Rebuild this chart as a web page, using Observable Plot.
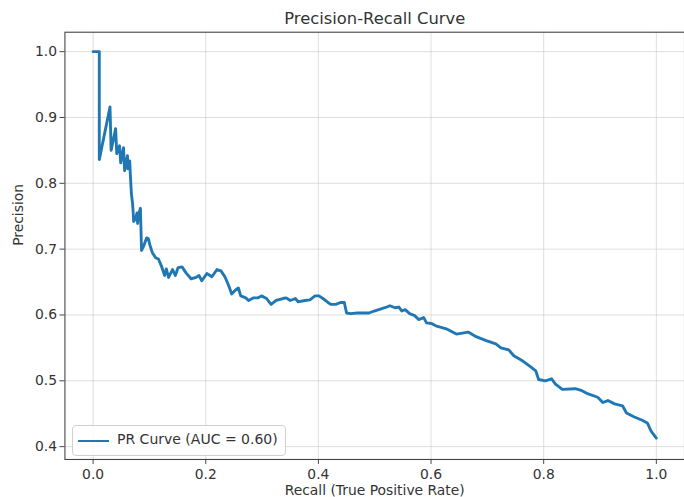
<!DOCTYPE html>
<html>
<head>
<meta charset="utf-8">
<script src="https://cdn.jsdelivr.net/npm/d3@7"></script>
<script src="https://cdn.jsdelivr.net/npm/@observablehq/plot@0.6"></script>
<style>
  html, body { margin: 0; padding: 0; background: #fff; overflow: hidden; }
  #wrap { position: relative; width: 684px; height: 497px; overflow: hidden; }
  #legend {
    position: absolute; left: 72px; top: 425px; width: 214px; height: 31px;
    border: 1px solid #d0d0d0; border-radius: 4px; background: rgba(255,255,255,0.85);
    font-family: "DejaVu Sans", sans-serif; font-size: 14px; color: #333;
    box-sizing: border-box;
  }
  #legend .sw { position: absolute; left: 5px; top: 13.5px; width: 31px; height: 0; border-top: 2.8px solid #1f77b4; }
  #legend .lab { position: absolute; left: 44px; top: 5px; white-space: nowrap; }
</style>
</head>
<body>
<div id="wrap"></div>
<script>
const title = "Precision-Recall Curve";
const xLabel = "Recall (True Positive Rate)";
const yLabel = "Precision";
const legendLabel = "PR Curve (AUC = 0.60)";
const xTicks = [0, 0.2, 0.4, 0.6, 0.8, 1.0];
const yTicks = [0.4, 0.5, 0.6, 0.7, 0.8, 0.9, 1.0];

const recall = [
  0.000, 0.011, 0.011, 0.030, 0.032, 0.040, 0.042, 0.047, 0.049, 0.054,
  0.056, 0.061, 0.062, 0.065, 0.066, 0.068, 0.070, 0.071, 0.072, 0.076,
  0.078, 0.079, 0.081, 0.084, 0.086, 0.090, 0.095, 0.098, 0.101, 0.105,
  0.111, 0.116, 0.121, 0.127, 0.130, 0.134, 0.141, 0.146, 0.151, 0.158,
  0.165, 0.174, 0.183, 0.188, 0.193, 0.202, 0.211, 0.220, 0.227, 0.234,
  0.241, 0.246, 0.253, 0.258, 0.262, 0.271, 0.276, 0.285, 0.293, 0.299,
  0.308, 0.316, 0.325, 0.337, 0.343, 0.350, 0.359, 0.364, 0.376, 0.385,
  0.394, 0.401, 0.408, 0.417, 0.422, 0.431, 0.439, 0.446, 0.450, 0.457,
  0.469, 0.482, 0.490, 0.499, 0.510, 0.518, 0.527, 0.536, 0.543, 0.548,
  0.554, 0.562, 0.571, 0.578, 0.587, 0.592, 0.601, 0.610, 0.627, 0.645,
  0.666, 0.680, 0.698, 0.715, 0.724, 0.738, 0.747, 0.763, 0.777, 0.786,
  0.791, 0.803, 0.814, 0.821, 0.833, 0.856, 0.868, 0.879, 0.896, 0.905,
  0.914, 0.926, 0.940, 0.947, 0.961, 0.975, 0.984, 0.991, 1.000
];
const precision = [
  1.000, 1.000, 0.836, 0.916, 0.850, 0.883, 0.845, 0.857, 0.831, 0.854,
  0.819, 0.842, 0.822, 0.834, 0.815, 0.784, 0.770, 0.758, 0.742, 0.748,
  0.755, 0.739, 0.754, 0.762, 0.698, 0.705, 0.717, 0.716, 0.706, 0.695,
  0.687, 0.685, 0.675, 0.660, 0.670, 0.657, 0.669, 0.660, 0.672, 0.673,
  0.664, 0.655, 0.657, 0.660, 0.652, 0.663, 0.658, 0.669, 0.667, 0.658,
  0.644, 0.632, 0.638, 0.641, 0.629, 0.626, 0.622, 0.626, 0.626, 0.629,
  0.625, 0.616, 0.622, 0.625, 0.626, 0.622, 0.625, 0.620, 0.622, 0.623,
  0.629, 0.629, 0.625, 0.619, 0.616, 0.616, 0.619, 0.619, 0.603, 0.602,
  0.603, 0.603, 0.603, 0.606, 0.609, 0.611, 0.614, 0.611, 0.612, 0.606,
  0.608, 0.602, 0.599, 0.593, 0.596, 0.588, 0.587, 0.583, 0.579, 0.571,
  0.574, 0.567, 0.561, 0.556, 0.550, 0.547, 0.538, 0.530, 0.521, 0.515,
  0.502, 0.500, 0.503, 0.495, 0.487, 0.488, 0.485, 0.480, 0.475, 0.467,
  0.470, 0.465, 0.462, 0.451, 0.445, 0.440, 0.436, 0.423, 0.413
];

const data = recall.map((r, i) => ({recall: r, precision: precision[i]}));
const font = "DejaVu Sans, sans-serif";

const chart = Plot.plot({
  width: 690,
  height: 497,
  marginLeft: 65,
  marginRight: 0,
  marginTop: 32,
  marginBottom: 34,
  style: {fontFamily: font, fontSize: "14px", color: "#333", background: "#fff", overflow: "visible"},
  x: {domain: [-0.05, 1.05]},
  y: {domain: [0.3805, 1.0295]},
  marks: [
    Plot.gridX(xTicks, {stroke: "#c8c8c8", strokeOpacity: 0.6}),
    Plot.gridY(yTicks, {stroke: "#c8c8c8", strokeOpacity: 0.6}),
    Plot.axisX(xTicks, {tickSize: 5, tickPadding: 5, tickFormat: d3.format(".1f"), label: null, stroke: "#444", fontSize: 14}),
    Plot.axisY(yTicks, {tickSize: 5, tickPadding: 3, tickFormat: d3.format(".1f"), label: null, stroke: "#444", fontSize: 14}),
    Plot.line(data, {x: "recall", y: "precision", stroke: "#1f77b4", strokeWidth: 2.9, strokeLinejoin: "round"}),
    Plot.frame({stroke: "#444", strokeWidth: 1.1}),
    Plot.text([title], {frameAnchor: "top", lineAnchor: "middle", dy: -14, fontSize: 16.5, fill: "#333"}),
    Plot.text([xLabel], {frameAnchor: "bottom", lineAnchor: "middle", dy: 31, fontSize: 14, fill: "#333"}),
    Plot.text([yLabel], {frameAnchor: "left", lineAnchor: "middle", dx: -47, rotate: -90, fontSize: 14, fill: "#333"})
  ]
});

const wrap = document.getElementById("wrap");
wrap.appendChild(chart);
const legend = document.createElement("div");
legend.id = "legend";
legend.innerHTML = '<div class="sw"></div><div class="lab"></div>';
legend.querySelector(".lab").textContent = legendLabel;
wrap.appendChild(legend);
</script>
</body>
</html>
